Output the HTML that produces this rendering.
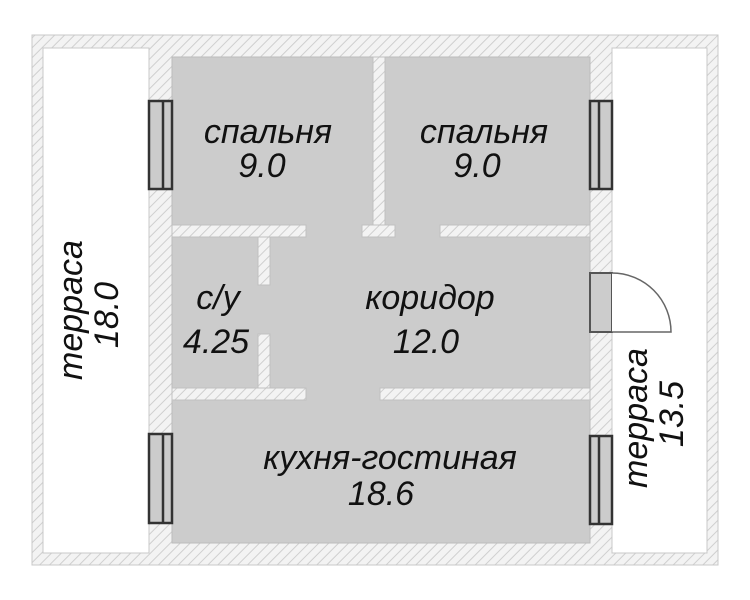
<!DOCTYPE html>
<html><head><meta charset="utf-8"><style>
html,body{margin:0;padding:0;background:#fff;}
svg{display:block;}
text{font-family:"Liberation Sans",sans-serif;font-style:italic;fill:#111;}
</style></head><body>
<svg width="750" height="600" viewBox="0 0 750 600" xmlns="http://www.w3.org/2000/svg">
<defs>
<pattern id="h" patternUnits="userSpaceOnUse" width="7" height="7" patternTransform="rotate(45)">
<rect width="7" height="7" fill="#f3f3f3"/>
<line x1="0" y1="0" x2="0" y2="7" stroke="#cfcfcf" stroke-width="2"/>
</pattern>
</defs>
<rect x="32" y="35" width="686" height="530" fill="url(#h)" stroke="#c8c8c8" stroke-width="1"/>
<rect x="43" y="48" width="106" height="505" fill="#fff" stroke="#c8c8c8"/>
<rect x="612" y="48" width="95" height="505" fill="#fff" stroke="#c8c8c8"/>
<g fill="#cccccc" stroke="#bbbbbb" stroke-width="1">
<rect x="172" y="57" width="201" height="168"/>
<rect x="385" y="57" width="205" height="168"/>
<rect x="172" y="400" width="418" height="143"/>
</g>
<rect x="172" y="224" width="418" height="177" fill="#cccccc"/>
<line x1="172" y1="224" x2="172" y2="400" stroke="#bbb"/>
<line x1="590" y1="224" x2="590" y2="400" stroke="#bbb"/>
<g fill="url(#h)" stroke="#c0c0c0" stroke-width="1">
<rect x="172" y="225" width="134" height="12"/>
<rect x="362" y="225" width="33" height="12"/>
<rect x="440" y="225" width="150" height="12"/>
<rect x="258" y="237" width="12" height="48"/>
<rect x="258" y="334" width="12" height="54"/>
<rect x="172" y="388" width="134" height="12"/>
<rect x="380" y="388" width="210" height="12"/>
<rect x="373" y="57" width="12" height="168"/>
</g>
<g fill="#cccccc" stroke="#333" stroke-width="2.5">
<rect x="149" y="101" width="23" height="88"/>
<line x1="163" y1="101" x2="163" y2="189"/>
<rect x="149" y="434" width="23" height="89"/>
<line x1="163" y1="434" x2="163" y2="523"/>
<rect x="590" y="101" width="22" height="88"/>
<line x1="599" y1="101" x2="599" y2="189"/>
<rect x="590" y="436" width="22" height="88"/>
<line x1="599" y1="436" x2="599" y2="524"/>
</g>
<rect x="590" y="273" width="22" height="59" fill="#cccccc" stroke="#555" stroke-width="2"/>
<path d="M612 273 A59 59 0 0 1 671 332 L612 332" fill="#fff" stroke="#666" stroke-width="1.5"/>
<g font-size="34" text-anchor="middle">
<text x="268" y="143">спальня</text>
<text x="262" y="177">9.0</text>
<text x="484" y="143">спальня</text>
<text x="477" y="177">9.0</text>
<text x="218" y="309">с/у</text>
<text x="216" y="353">4.25</text>
<text x="430" y="309">коридор</text>
<text x="426" y="353">12.0</text>
<text x="390" y="469">кухня-гостиная</text>
<text x="381" y="505">18.6</text>
<text transform="translate(82,310) rotate(-90)">терраса</text>
<text transform="translate(118,315) rotate(-90)">18.0</text>
<text transform="translate(647,418) rotate(-90)">терраса</text>
<text transform="translate(683,414) rotate(-90)">13.5</text>
</g>
</svg>
</body></html>
